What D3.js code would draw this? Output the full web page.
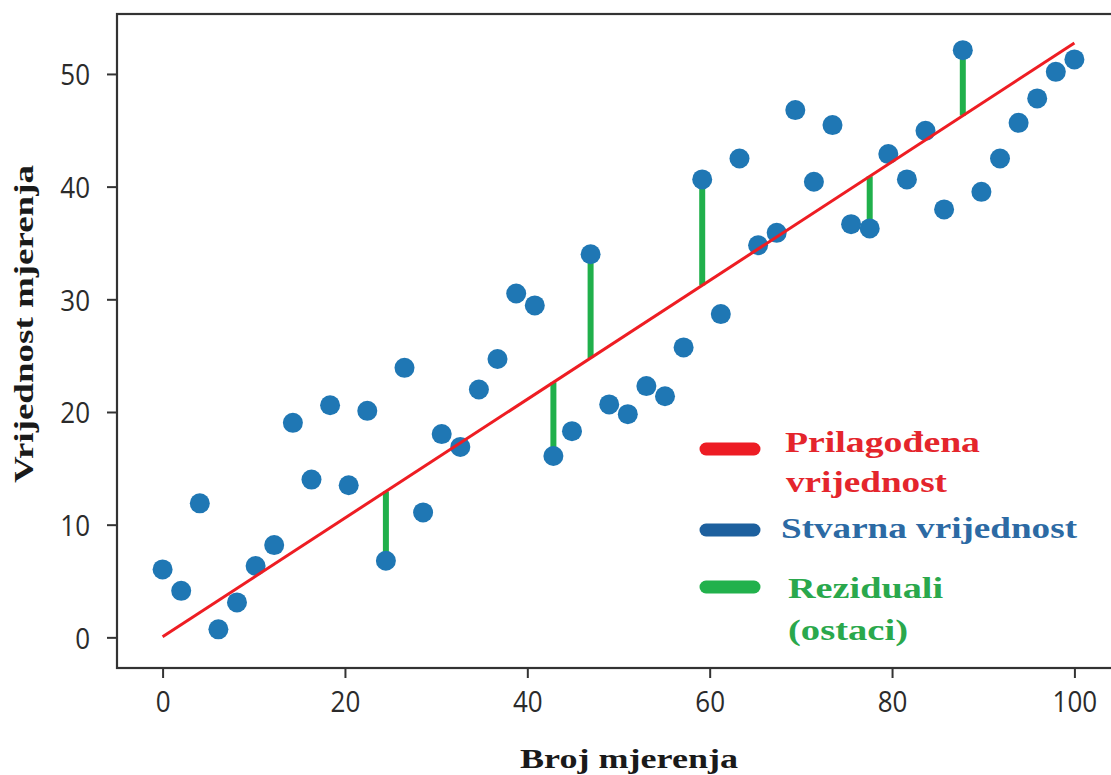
<!DOCTYPE html>
<html>
<head>
<meta charset="utf-8">
<script src="https://cdn.jsdelivr.net/npm/d3@7/dist/d3.min.js"></script>
<style>
  html, body { margin: 0; padding: 0; background: #fff; }
  svg { display: block; }
</style>
</head>
<body>
<svg id="chart" width="1111" height="775"></svg>
<script>
// ---- data ----
const xValues = [0, 2.04, 4.08, 6.12, 8.16, 10.2, 12.24, 14.29, 16.33, 18.37,
  20.41, 22.45, 24.49, 26.53, 28.57, 30.61, 32.65, 34.69, 36.73, 38.78,
  40.82, 42.86, 44.9, 46.94, 48.98, 51.02, 53.06, 55.1, 57.14, 59.18,
  61.22, 63.27, 65.31, 67.35, 69.39, 71.43, 73.47, 75.51, 77.55, 79.59,
  81.63, 83.67, 85.71, 87.76, 89.8, 91.84, 93.88, 95.92, 97.96, 100];
const yValues = [6.03, 4.13, 11.89, 0.71, 3.1, 6.33, 8.19, 19.04, 14.0, 20.6,
  13.5, 20.1, 6.8, 23.92, 11.09, 18.04, 16.9, 22.0, 24.7, 30.52,
  29.46, 16.09, 18.3, 34.0, 20.67, 19.81, 22.3, 21.4, 25.73, 40.64,
  28.69, 42.5, 34.8, 35.9, 46.79, 40.43, 45.46, 36.67, 36.29, 42.89,
  40.64, 44.95, 37.98, 52.11, 39.54, 42.5, 45.66, 47.83, 50.19, 51.29];
const fitX = [0, 100];
const fitY = [0.05, 52.75];
const residualIdx = [12, 21, 23, 29, 38, 43];
const xTicks = [0, 20, 40, 60, 80, 100];
const yTicks = [0, 10, 20, 30, 40, 50];
const legendLabels = [["Prilagođena", "vrijednost"], ["Stvarna vrijednost"], ["Reziduali", "(ostaci)"]];
const xTitle = "Broj mjerenja";
const yTitle = "Vrijednost mjerenja";

// ---- layout ----
const W = 1111, H = 775;
const plot = { left: 117, right: 1120, top: 14, bottom: 668 };
const svg = d3.select("#chart");

const x = d3.scaleLinear().domain([-5, 105]).range([plot.left, plot.right]);
const y = d3.scaleLinear().domain([-2.72, 55.32]).range([plot.bottom, plot.top]);

const C = {
  dot: "#1f77b4", fit: "#ee1d23", resid: "#20b04b",
  axis: "#333333", tick: "#2b2b2b",
  legRed: "#ed1c24", legBlue: "#1d609e", legGreen: "#22b14c",
  txtRed: "#e4252c", txtBlue: "#2c6aa4", txtGreen: "#2aa84c",
  title: "#1a1a1a"
};
const serif = "'Liberation Serif','Times New Roman',Times,serif";
const sans = "'Open Sans','Noto Sans',sans-serif";

// frame (top spine, left, bottom; right is off-canvas)
svg.append("rect")
  .attr("x", plot.left).attr("y", plot.top)
  .attr("width", plot.right - plot.left).attr("height", plot.bottom - plot.top)
  .attr("fill", "none").attr("stroke", C.axis).attr("stroke-width", 2.2);

// axes
const xAxis = svg.append("g").attr("transform", `translate(0,${plot.bottom})`)
  .call(d3.axisBottom(x).tickValues(xTicks).tickSize(10).tickPadding(0).tickFormat(d3.format("d")));
const yAxis = svg.append("g").attr("transform", `translate(${plot.left},0)`)
  .call(d3.axisLeft(y).tickValues(yTicks).tickSize(10).tickPadding(0).tickFormat(d3.format("d")));
[xAxis, yAxis].forEach(a => {
  a.select(".domain").remove();
  a.selectAll(".tick line").attr("stroke", C.axis).attr("stroke-width", 2);
  a.selectAll(".tick text").attr("fill", C.tick)
    .style("font-family", sans).style("font-size", "26px")
    .attr("x", 0).attr("y", 0).attr("dy", 0);
});
xAxis.selectAll(".tick text").attr("text-anchor", "middle")
  .attr("transform", "translate(0,43.5) scale(1,1.15)");
yAxis.selectAll(".tick text").attr("text-anchor", "end")
  .attr("transform", "translate(-27,11) scale(1,1.15)");

// residuals
const fitAt = v => fitY[0] + (fitY[1] - fitY[0]) * (v - fitX[0]) / (fitX[1] - fitX[0]);
svg.append("g").selectAll("line").data(residualIdx).join("line")
  .attr("x1", i => x(xValues[i])).attr("x2", i => x(xValues[i]))
  .attr("y1", i => y(yValues[i])).attr("y2", i => y(fitAt(xValues[i])))
  .attr("stroke", C.resid).attr("stroke-width", 6);

// dots
svg.append("g").selectAll("circle").data(xValues).join("circle")
  .attr("cx", d => x(d)).attr("cy", (d, i) => y(yValues[i]))
  .attr("r", 10).attr("fill", C.dot);

// fitted line
svg.append("path")
  .datum(fitX.map((d, i) => [d, fitY[i]]))
  .attr("d", d3.line().x(d => x(d[0])).y(d => y(d[1])))
  .attr("fill", "none").attr("stroke", C.fit).attr("stroke-width", 3);

// legend
const legend = svg.append("g");
const legRows = [
  { y: 449, color: C.legRed, txt: C.txtRed, lines: [{ t: legendLabels[0][0], x: 785, b: 452, w: 195 }, { t: legendLabels[0][1], x: 786, b: 492, w: 161 }] },
  { y: 530, color: C.legBlue, txt: C.txtBlue, lines: [{ t: legendLabels[1][0], x: 781, b: 538, w: 296 }] },
  { y: 587, color: C.legGreen, txt: C.txtGreen, lines: [{ t: legendLabels[2][0], x: 788, b: 598, w: 155 }, { t: legendLabels[2][1], x: 788, b: 640, w: 120 }] }
];
legRows.forEach(r => {
  legend.append("line").attr("x1", 706).attr("x2", 754).attr("y1", r.y).attr("y2", r.y)
    .attr("stroke", r.color).attr("stroke-width", 13).attr("stroke-linecap", "round");
  r.lines.forEach(l => {
    legend.append("text").attr("x", l.x).attr("y", l.b).text(l.t)
      .attr("fill", r.txt).style("font-family", serif).style("font-weight", "bold")
      .style("font-size", "30px")
      .attr("textLength", l.w).attr("lengthAdjust", "spacingAndGlyphs");
  });
});

// axis titles
svg.append("text").attr("x", 629).attr("y", 768).attr("text-anchor", "middle")
  .text(xTitle).attr("fill", C.title)
  .style("font-family", serif).style("font-weight", "bold").style("font-size", "28px")
  .attr("textLength", 218).attr("lengthAdjust", "spacingAndGlyphs");
svg.append("text").attr("transform", "translate(33,324) rotate(-90)").attr("text-anchor", "middle")
  .text(yTitle).attr("fill", C.title)
  .style("font-family", serif).style("font-weight", "bold").style("font-size", "28px")
  .attr("textLength", 318).attr("lengthAdjust", "spacingAndGlyphs");
</script>
</body>
</html>
